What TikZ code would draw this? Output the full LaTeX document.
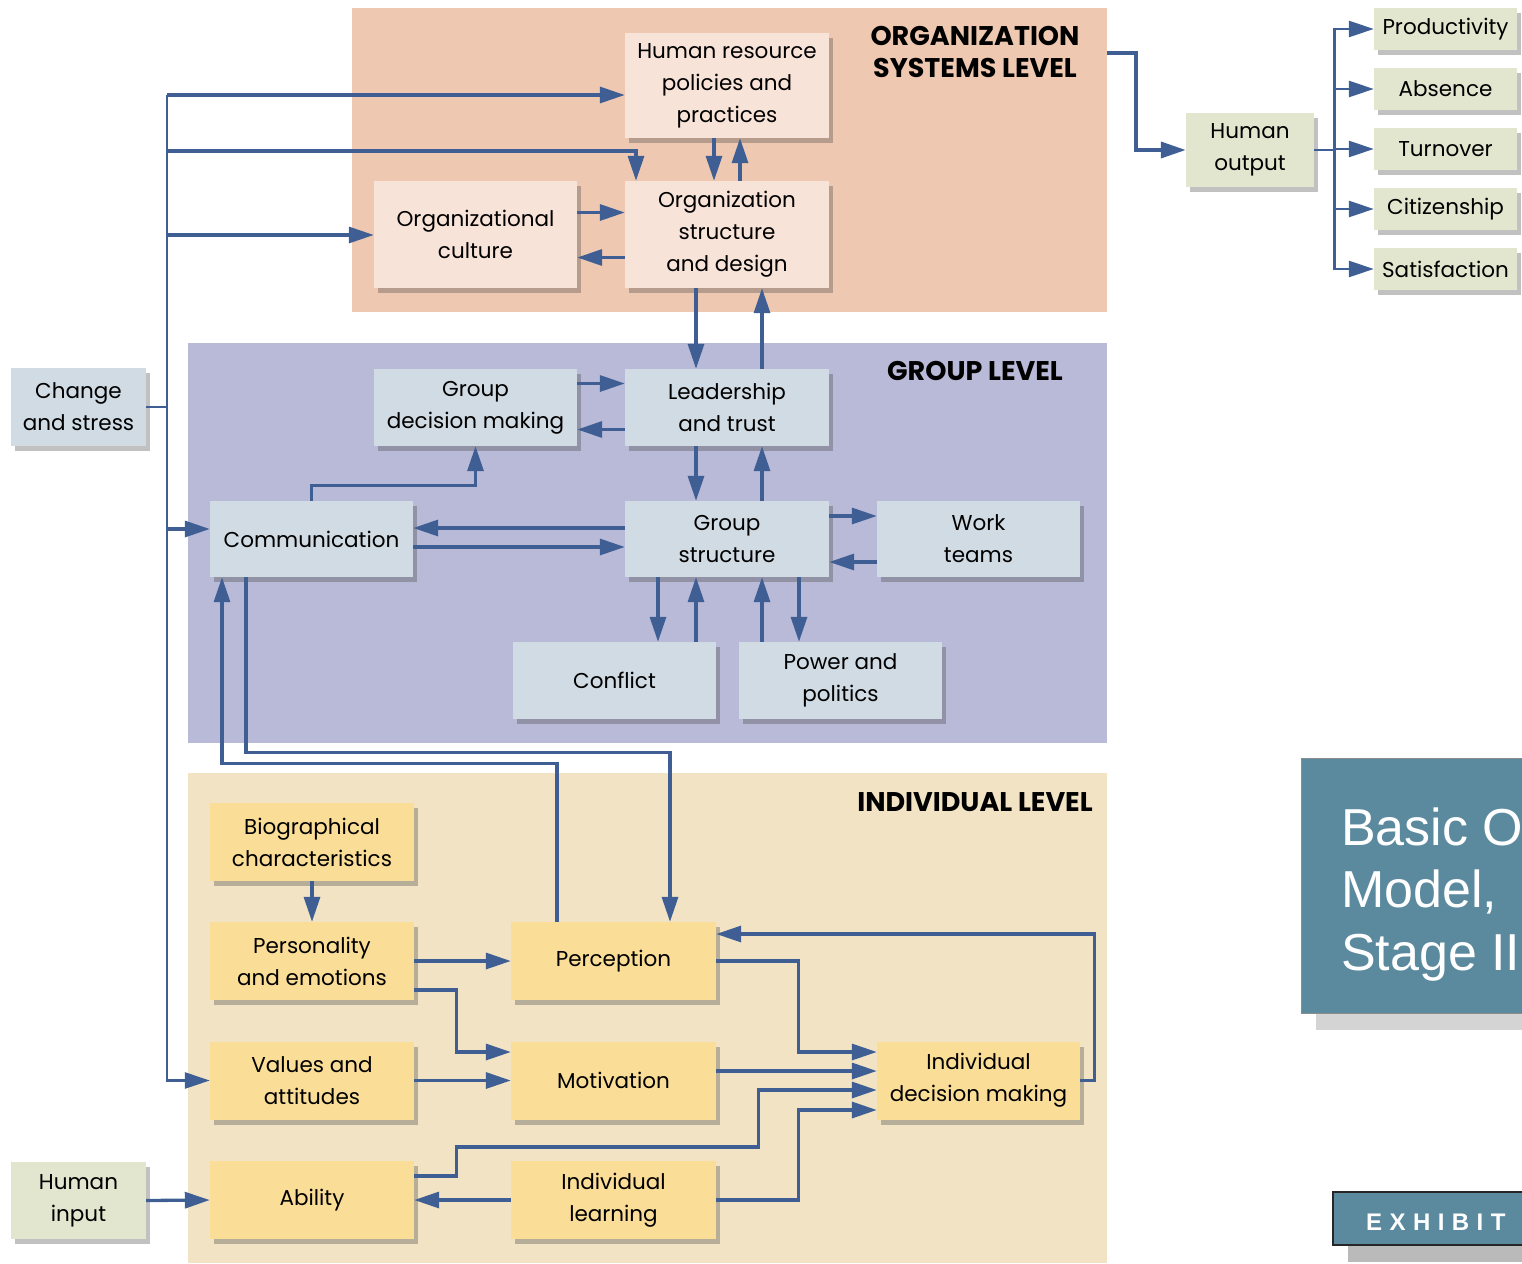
\documentclass[tikz,border=0pt]{standalone}
\usepackage{fontspec}
\setmainfont{Poppins}
\newfontfamily\titlefont{Liberation Sans}
\newfontfamily\exhibitfont[LetterSpace=31]{Liberation Sans}
\usetikzlibrary{arrows.meta,shadows,calc}
\definecolor{orgpanel}{RGB}{238,200,177}
\definecolor{orgnode}{RGB}{248,227,216}
\definecolor{grppanel}{RGB}{185,185,216}
\definecolor{grpnode}{RGB}{209,219,227}
\definecolor{indpanel}{RGB}{241,227,196}
\definecolor{indnode}{RGB}{250,221,150}
\definecolor{outnode}{RGB}{226,230,206}
\definecolor{titleblue}{RGB}{91,138,159}
\definecolor{linkblue}{RGB}{62,94,148}

\begin{document}
\begin{tikzpicture}[x=1pt,y=-1pt,
	box/.style={minimum width=204pt,minimum height=78pt,align=center,inner sep=2pt,
		font=\fontsize{21.5}{32}\selectfont,
		drop shadow={shadow xshift=4pt,shadow yshift=-5pt,opacity=.35,fill=black!70}},
	orgbox/.style={box,fill=orgnode},
	grpbox/.style={box,fill=grpnode},
	indbox/.style={box,fill=indnode},
	outbox/.style={box,fill=outnode},
	level/.style={font=\bfseries\fontsize{27}{32}\selectfont,align=center},
	link/.style={draw=linkblue,line width=3.3pt},
	flow/.style={link,-{Triangle[length=25pt,width=16pt]}}]
	\useasboundingbox (0,0) rectangle (1522,1263);
	\fill[orgpanel] (352,8) rectangle (1107,312);
	\fill[grppanel] (188,343) rectangle (1107,743);
	\fill[indpanel] (188,773) rectangle (1107,1263);
	\node[level] at (975,52) {ORGANIZATION\\SYSTEMS LEVEL};
	\node[level] at (975,371) {GROUP LEVEL};
	\node[level] at (975,802) {INDIVIDUAL LEVEL};
	\node[orgbox,minimum height=105pt] (hr) at (727,85.5) {Human resource\\policies and\\practices};
	\node[orgbox,minimum height=107pt] (ostruct) at (727,234.5) {Organization\\structure\\and design};
	\node[orgbox,minimum height=107pt,minimum width=203pt] (oculture) at (475.5,234.5) {Organizational\\culture};
	\node[grpbox,minimum height=77pt,minimum width=203pt] (gdm) at (475.5,407.5) {Group\\decision making};
	\node[grpbox,minimum height=77pt] (lead) at (727,407.5) {Leadership\\and trust};
	\node[grpbox,minimum height=76pt,minimum width=203pt] (comm) at (311.5,539) {Communication};
	\node[grpbox,minimum height=76pt] (gstruct) at (727,539) {Group\\structure};
	\node[grpbox,minimum height=76pt,minimum width=203pt] (teams) at (978.5,539) {Work\\teams};
	\node[grpbox,minimum height=77pt,minimum width=203pt] (conflict) at (614.5,680.5) {Conflict};
	\node[grpbox,minimum height=77pt,minimum width=203pt] (power) at (840.5,680.5) {Power and\\politics};
	\node[grpbox,minimum width=135pt] (change) at (78.5,407) {Change\\and stress};
	\node[indbox] (bio) at (312,842) {Biographical\\characteristics};
	\node[indbox] (pers) at (312,961) {Personality\\and emotions};
	\node[indbox] (values) at (312,1080.5) {Values and\\attitudes};
	\node[indbox] (ability) at (312,1200) {Ability};
	\node[indbox,minimum width=205pt] (perc) at (613.5,961) {Perception};
	\node[indbox,minimum width=205pt] (motiv) at (613.5,1080.5) {Motivation};
	\node[indbox,minimum width=205pt] (learn) at (613.5,1200) {Individual\\learning};
	\node[indbox,minimum width=203pt] (idm) at (978.5,1080.5) {Individual\\decision making};
	\node[outbox,minimum width=135pt,minimum height=77pt] (hinput) at (78.5,1200.5) {Human\\input};
	\node[outbox,minimum width=128pt,minimum height=74pt] (hout) at (1250,150) {Human\\output};
	\foreach \n/\t/\y in {prod/Productivity/29,abs/Absence/89,turn/Turnover/149,citi/Citizenship/209,sati/Satisfaction/269}
		\node[outbox,minimum width=143pt,minimum height=42pt] (\n) at (1445.5,\y) {\t};
	\path (167,95) coordinate (ts) (167,151) coordinate (t1) (167,235) coordinate (t2)
		(167,529) coordinate (t3) (1107,53) coordinate (orgexit);
	\draw[link,line width=2.6pt] (change.east) -- (change.east -| ts);
	\draw[flow,line width=2.6pt] (ts) |- (values.west);
	\draw[flow] (ts) -- (ts -| hr.west);
	\draw[flow] (t1) -| ([xshift=-91pt]ostruct.north);
	\draw[flow] (t2) -- (t2 -| oculture.west);
	\draw[flow] (t3) -- (t3 -| comm.west);
	\draw[flow] ([xshift=-13pt]hr.south) -- ([xshift=-13pt]ostruct.north);
	\draw[flow] ([xshift=13pt]ostruct.north) -- ([xshift=13pt]hr.south);
	\draw[flow] ([yshift=22pt]oculture.east) -- ([yshift=22pt]ostruct.west);
	\draw[flow] ([yshift=-23pt]ostruct.west) -- ([yshift=-23pt]oculture.east);
	\draw[flow] ([xshift=-31pt]ostruct.south) -- ([xshift=-31pt]lead.north);
	\draw[flow] ([xshift=35pt]lead.north) -- ([xshift=35pt]ostruct.south);
	\draw[flow] ([yshift=24pt]gdm.east) -- ([yshift=24pt]lead.west);
	\draw[flow] ([yshift=-22pt]lead.west) -- ([yshift=-22pt]gdm.east);
	\draw[flow] ([xshift=-31pt]lead.south) -- ([xshift=-31pt]gstruct.north);
	\draw[flow] ([xshift=35pt]gstruct.north) -- ([xshift=35pt]lead.south);
	\draw[flow] (comm.north) -- ++(0,-15) -| (gdm.south);
	\draw[flow] ([yshift=11pt]gstruct.west) -- ([yshift=11pt]comm.east);
	\draw[flow] ([yshift=-8pt]comm.east) -- ([yshift=-8pt]gstruct.west);
	\draw[flow] ([yshift=23pt]gstruct.east) -- ([yshift=23pt]teams.west);
	\draw[flow] ([yshift=-23pt]teams.west) -- ([yshift=-23pt]gstruct.east);
	\draw[flow] ([xshift=-69pt]gstruct.south) -- ([xshift=-69pt]gstruct.south |- conflict.north);
	\draw[flow] ([xshift=-31pt]gstruct.south |- conflict.north) -- ([xshift=-31pt]gstruct.south);
	\draw[flow] ([xshift=35pt]gstruct.south |- power.north) -- ([xshift=35pt]gstruct.south);
	\draw[flow] ([xshift=72pt]gstruct.south) -- ([xshift=72pt]gstruct.south |- power.north);
	\draw[flow] ([xshift=-56.5pt]perc.north) -- ++(0,-158) -| ([xshift=-89.5pt]comm.south);
	\draw[flow] ([xshift=-65.5pt]comm.south) -- ++(0,175) -| ([xshift=56.5pt]perc.north);
	\draw[flow] (bio.south) -- (pers.north);
	\draw[flow] (pers.east) -- (perc.west);
	\draw[flow] ([yshift=-29pt]pers.east) -- ++(42,0) |- ([yshift=28.5pt]motiv.west);
	\draw[flow] (values.east) -- (motiv.west);
	\draw[flow] (hinput.east) -- (ability.west);
	\draw[flow] (learn.west) -- (ability.east);
	\draw[flow] ([yshift=24pt]ability.east) -- ++(42,0) -- ++(0,-29) -- ++(302,0) |- ([yshift=-9.5pt]idm.west);
	\draw[flow] (perc.east) -- ++(82,0) |- ([yshift=28.5pt]idm.west);
	\draw[flow] ([yshift=9.5pt]motiv.east) -- ([yshift=9.5pt]idm.west);
	\draw[flow] (learn.east) -- ++(82,0) |- ([yshift=-29.5pt]idm.west);
	\draw[flow] (idm.east) -- ++(14,0) |- ([yshift=27pt]perc.east);
	\draw[flow,line width=3.6pt] (orgexit) -- ++(29,0) |- (hout.west);
	\foreach \n in {prod,abs,turn,citi,sati}
		\draw[flow,line width=2.6pt] (hout.east) -- ++(20,0) |- (\n.west);
	\fill[black!17] (1316,773) rectangle (1522,1030);
	\fill[titleblue] (1301,758) rectangle (1522,1013);
	\draw[black!45,line width=1pt] (1522,758) -| (1301,1013) -- (1522,1013);
	\foreach \t/\y in {Basic O/845,{Model,}/907,Stage II/970}
		\node[anchor=base west,inner sep=0,text=white,font=\titlefont\fontsize{52}{63}\selectfont] at (1341,\y) {\t};
	\fill[black!27] (1348,1207) rectangle (1522,1262);
	\filldraw[fill=titleblue,draw=black!85,line width=1.2pt] (1530,1192) -| (1333,1245) -- (1530,1245);
	\node[anchor=base west,inner sep=0,text=white,font=\exhibitfont\bfseries\fontsize{24}{28}\selectfont] at (1366,1230) {EXHIBIT};
\end{tikzpicture}
\end{document}
